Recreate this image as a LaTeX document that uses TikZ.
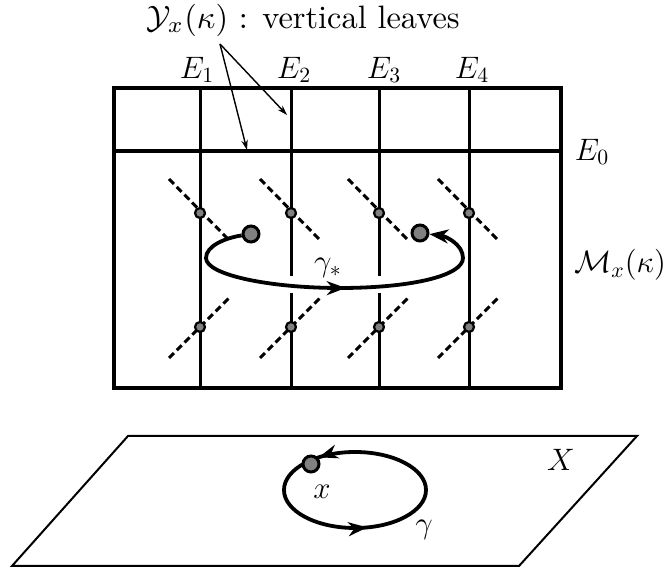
\RequirePackage{fix-cm}
\documentclass[tikz,border=0pt]{standalone}
\usetikzlibrary{arrows.meta,decorations.markings}

\begin{document}
\begin{tikzpicture}[x=0.5pt,y=-0.5pt,
  every node/.style={font=\fontsize{15.5}{18}\selectfont},
  boxline/.style={line width=2pt},
  leaf/.style={line width=1.5pt},
  fiber/.style={line width=1.5pt,dash pattern=on 3.5pt off 2pt},
  leafdot/.style={circle,draw,line width=1.1pt,fill=black!50,inner sep=0pt,minimum size=5pt},
  bigdot/.style={circle,draw,line width=1.5pt,fill=black!50,inner sep=0pt,minimum size=8pt},
  headtip/.style={-{Stealth[length=9.5pt,width=7pt,inset=3pt]}},
  orbit/.style={line width=1.9pt},
  plane/.style={line width=1pt}]
\useasboundingbox (0,0) rectangle (666,572);

% the box and the leaf E_0
\draw[boxline] (114,88) rectangle (561,388);
\draw[boxline] (114,151) -- (561,151);

% vertical leaves
\foreach \x in {200,469} \draw[leaf] (\x,88) -- (\x,388);
\foreach \x in {291,379} {
  \draw[leaf] (\x,88) -- (\x,276);
  \draw[leaf] (\x,293) -- (\x,388);
}

% fibres through the leaves
\foreach \x/\n in {200/1,291/2,379/3,469/4} {
  \draw[fiber] ({\x-31},179) -- ({\x+29},240);
  \draw[fiber] ({\x-31},358) -- ({\x+30},297);
  \node[leafdot] (u\n) at (\x,213) {};
  \node[leafdot] (d\n) at (\x,327) {};
}

% lift of the loop
\node[bigdot] (lbig) at (251,234) {};
\node[bigdot] (rbig) at (420,233) {};
\draw[orbit,headtip,postaction={decorate,decoration={markings,
    mark=at position 0.53 with {\arrow{Stealth[length=9.5pt,width=7pt,inset=3pt]}}}}]
  (lbig) .. controls (225,238) and (206,246) .. (206,258)
  .. controls (206,275) and (270,288) .. (340,288)
  .. controls (410,288) and (463,276) .. (463,258)
  .. controls (463,244) and (445,236) .. (rbig);

% labels
\node[font=\normalsize,inner sep=0pt] (lY) at (303,20)
  {\scalebox{1.62}{$\mathcal{Y}_x(\kappa)$ : vertical leaves}};
\coordinate (ysrc) at (220,44);
\coordinate (yleaf1) at (247,150);
\coordinate (yleaf2) at (287,115);
\draw[line width=0.7pt,-{Stealth[length=5pt,width=3.2pt]}] (ysrc) -- (yleaf1);
\draw[line width=0.7pt,-{Stealth[length=5pt,width=3.2pt]}] (ysrc) -- (yleaf2);
\node (lE1) at (197,70) {$E_1$};
\node (lE2) at (294,70) {$E_2$};
\node (lE3) at (384,70) {$E_3$};
\node (lE4) at (472,70) {$E_4$};
\node (lE0) at (592,152) {$E_0$};
\node (lM) at (620,265) {$\mathcal{M}_x(\kappa)$};
\node (lgs) at (328,268) {$\gamma_*$};

% the base X
\draw[plane] (128,436) -- (637,436) -- (519,566) -- (12,566) -- cycle;
\coordinate (gc) at (355,490);
\draw[orbit,postaction={decorate,decoration={markings,
    mark=at position 0.215 with {\arrowreversed{Stealth[length=9.5pt,width=7pt,inset=3pt]}},
    mark=at position 0.645 with {\arrowreversed{Stealth[length=9.5pt,width=7pt,inset=3pt]}}}}]
  (gc) ellipse [x radius=71, y radius=38];
\node[bigdot] (xpt) at (311,464) {};
\node (lx) at (322,492) {$x$};
\node (lg) at (424,530) {$\gamma$};
\node (lX) at (561,460) {$X$};
\end{tikzpicture}
\end{document}
